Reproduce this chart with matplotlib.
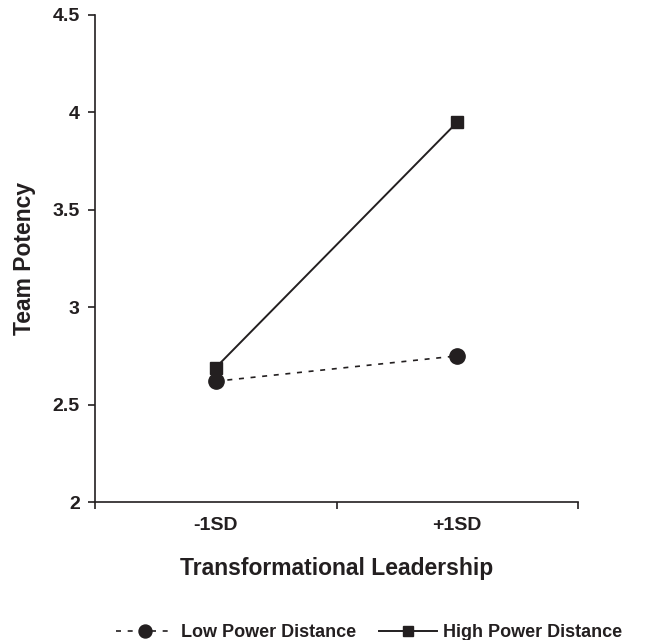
import matplotlib
matplotlib.use('Agg')
import matplotlib.pyplot as plt
from matplotlib.ticker import FixedLocator, NullFormatter

plt.rcParams['font.family'] = ['Liberation Sans', 'DejaVu Sans']
plt.rcParams['font.weight'] = 'bold'

# data
groups = ['-1SD', '+1SD']
low_pd = [2.62, 2.75]
high_pd = [2.69, 3.95]
yticks = [2, 2.5, 3, 3.5, 4, 4.5]
ytick_labels = ['2', '2.5', '3', '3.5', '4', '4.5']

ink = '#231f20'

fig = plt.figure(figsize=(6.47, 6.4), dpi=100)
ax = fig.add_axes([0.1468, 0.2156, 0.7466, 0.761])

x = [0.5, 1.5]
ax.plot(x, low_pd, color=ink, linewidth=1.2, dashes=(3, 4),
        marker='o', markersize=11, label='Low Power Distance')
ax.plot(x, high_pd, color=ink, linewidth=1.4,
        marker='s', markersize=8.5, label='High Power Distance')

ax.set_xlim(0, 2)
ax.set_ylim(2, 4.5)
ax.xaxis.set_major_locator(FixedLocator([0, 1, 2]))
ax.xaxis.set_major_formatter(NullFormatter())
ax.xaxis.set_minor_locator(FixedLocator(x))
ax.set_xticklabels(groups, minor=True)
ax.tick_params(axis='x', which='minor', length=0, pad=11,
               labelsize=14, labelcolor=ink)
ax.tick_params(axis='x', which='major', length=5, width=1.2, color=ink)
ax.set_yticks(yticks)
ax.set_yticklabels(ytick_labels)
ax.tick_params(axis='y', length=5, width=1.2, color=ink,
               labelsize=14, labelcolor=ink, pad=6)

for s in ['top', 'right']:
    ax.spines[s].set_visible(False)
for s in ['left', 'bottom']:
    ax.spines[s].set_color(ink)
    ax.spines[s].set_linewidth(1.2)

ax.set_xlabel('Transformational Leadership', fontsize=16.5, color=ink,
              fontweight='bold', labelpad=16)
ax.set_ylabel('Team Potency', fontsize=16.5, color=ink,
              fontweight='bold', labelpad=12)

leg = fig.legend(loc='center', bbox_to_anchor=(0.571, 0.012), ncol=2,
                 frameon=False, fontsize=13, handlelength=3.2,
                 columnspacing=1.3, handletextpad=0.35, markerscale=0.85)
for t in leg.get_texts():
    t.set_color(ink)

plt.savefig('out.png', dpi=100)
